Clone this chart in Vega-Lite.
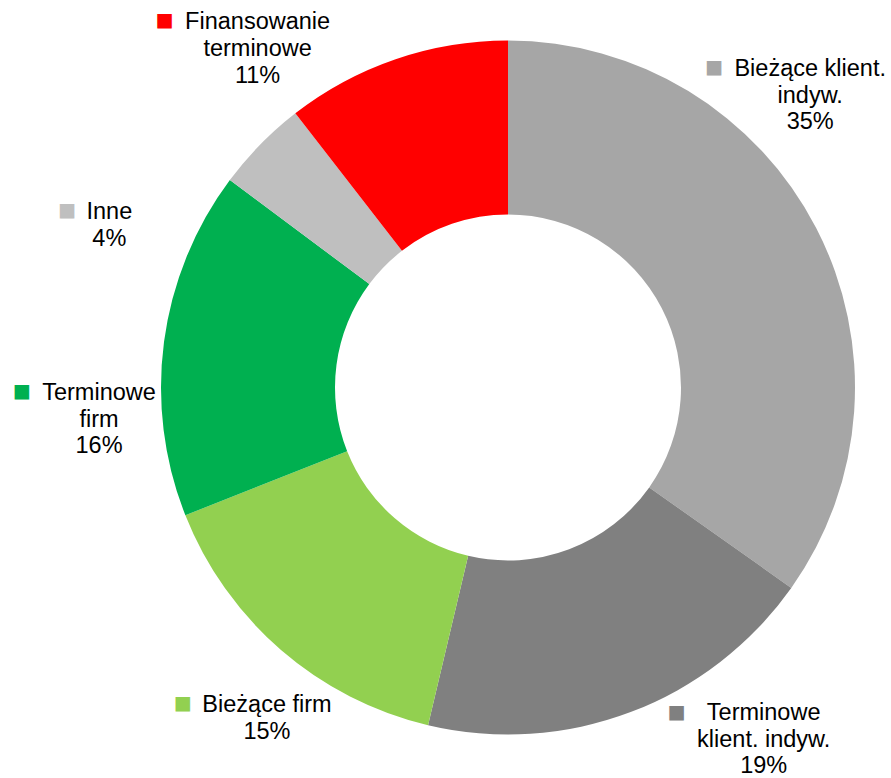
{
  "$schema": "https://vega.github.io/schema/vega-lite/v6.json",
  "autosize": {"type": "none"},
  "width": 760,
  "height": 775,
  "padding": {"left": 128, "top": 0, "right": 3, "bottom": 3},
  "background": "white",
  "config": {"view": {"stroke": null}},
  "data": {
    "values": [
      {"kategoria": "Bieżące klient. indyw.", "wartosc": 34.8, "etykieta": "Bieżące klient.\nindyw.\n35%", "kolejnosc": 1},
      {"kategoria": "Terminowe klient. indyw.", "wartosc": 18.9, "etykieta": "Terminowe\nklient. indyw.\n19%", "kolejnosc": 2},
      {"kategoria": "Bieżące firm", "wartosc": 15.3, "etykieta": "Bieżące firm\n15%", "kolejnosc": 3},
      {"kategoria": "Terminowe firm", "wartosc": 16.2, "etykieta": "Terminowe\nfirm\n16%", "kolejnosc": 4},
      {"kategoria": "Inne", "wartosc": 4.3, "etykieta": "Inne\n4%", "kolejnosc": 5},
      {"kategoria": "Finansowanie terminowe", "wartosc": 10.5, "etykieta": "Finansowanie\nterminowe\n11%", "kolejnosc": 6}
    ]
  },
  "encoding": {
    "theta": {"field": "wartosc", "type": "quantitative", "stack": true},
    "order": {"field": "kolejnosc", "type": "quantitative"}
  },
  "layer": [
    {
      "mark": {"type": "arc", "outerRadius": 347, "innerRadius": 173},
      "encoding": {
        "color": {
          "field": "kategoria", "type": "nominal", "legend": null,
          "scale": {
            "domain": ["Bieżące klient. indyw.", "Terminowe klient. indyw.", "Bieżące firm", "Terminowe firm", "Inne", "Finansowanie terminowe"],
            "range": ["#A6A6A6", "#808080", "#92D050", "#00B050", "#BFBFBF", "#FF0000"]
          }
        }
      }
    },
    {
      "mark": {"type": "text", "radius": 347, "dx": -6, "dy": -152, "align": "center", "baseline": "alphabetic", "lineBreak": "\n", "lineHeight": 26.7, "fontSize": 23.5, "font": "Liberation Sans", "fill": "#000000"},
      "encoding": {"text": {"condition": {"test": "datum.kolejnosc == 1", "field": "etykieta"}, "value": ""}}
    },
    {
      "mark": {"type": "text", "radius": 347, "dx": 133, "dy": 8, "align": "center", "baseline": "alphabetic", "lineBreak": "\n", "lineHeight": 26.7, "fontSize": 23.5, "font": "Liberation Sans", "fill": "#000000"},
      "encoding": {"text": {"condition": {"test": "datum.kolejnosc == 2", "field": "etykieta"}, "value": ""}}
    },
    {
      "mark": {"type": "text", "radius": 347, "dx": -14, "dy": 62, "align": "center", "baseline": "alphabetic", "lineBreak": "\n", "lineHeight": 26.7, "fontSize": 23.5, "font": "Liberation Sans", "fill": "#000000"},
      "encoding": {"text": {"condition": {"test": "datum.kolejnosc == 3", "field": "etykieta"}, "value": ""}}
    },
    {
      "mark": {"type": "text", "radius": 347, "dx": -65, "dy": 58, "align": "center", "baseline": "alphabetic", "lineBreak": "\n", "lineHeight": 26.7, "fontSize": 23.5, "font": "Liberation Sans", "fill": "#000000"},
      "encoding": {"text": {"condition": {"test": "datum.kolejnosc == 4", "field": "etykieta"}, "value": ""}}
    },
    {
      "mark": {"type": "text", "radius": 347, "dx": -151, "dy": 75, "align": "center", "baseline": "alphabetic", "lineBreak": "\n", "lineHeight": 26.7, "fontSize": 23.5, "font": "Liberation Sans", "fill": "#000000"},
      "encoding": {"text": {"condition": {"test": "datum.kolejnosc == 5", "field": "etykieta"}, "value": ""}}
    },
    {
      "mark": {"type": "text", "radius": 347, "dx": -138, "dy": -30, "align": "center", "baseline": "alphabetic", "lineBreak": "\n", "lineHeight": 26.7, "fontSize": 23.5, "font": "Liberation Sans", "fill": "#000000"},
      "encoding": {"text": {"condition": {"test": "datum.kolejnosc == 6", "field": "etykieta"}, "value": ""}}
    },
    {
      "mark": {"type": "text", "radius": 347, "dx": -102, "dy": -161, "align": "center", "baseline": "middle", "fontSize": 19, "font": "DejaVu Sans"},
      "encoding": {"color": {"field": "kategoria", "type": "nominal", "legend": null}, "text": {"condition": {"test": "datum.kolejnosc == 1", "value": "■"}, "value": ""}}
    },
    {
      "mark": {"type": "text", "radius": 347, "dx": 46, "dy": 0, "align": "center", "baseline": "middle", "fontSize": 19, "font": "DejaVu Sans"},
      "encoding": {"color": {"field": "kategoria", "type": "nominal", "legend": null}, "text": {"condition": {"test": "datum.kolejnosc == 2", "value": "■"}, "value": ""}}
    },
    {
      "mark": {"type": "text", "radius": 347, "dx": -98, "dy": 53, "align": "center", "baseline": "middle", "fontSize": 19, "font": "DejaVu Sans"},
      "encoding": {"color": {"field": "kategoria", "type": "nominal", "legend": null}, "text": {"condition": {"test": "datum.kolejnosc == 3", "value": "■"}, "value": ""}}
    },
    {
      "mark": {"type": "text", "radius": 347, "dx": -142, "dy": 49, "align": "center", "baseline": "middle", "fontSize": 19, "font": "DejaVu Sans"},
      "encoding": {"color": {"field": "kategoria", "type": "nominal", "legend": null}, "text": {"condition": {"test": "datum.kolejnosc == 4", "value": "■"}, "value": ""}}
    },
    {
      "mark": {"type": "text", "radius": 347, "dx": -193, "dy": 66, "align": "center", "baseline": "middle", "fontSize": 19, "font": "DejaVu Sans"},
      "encoding": {"color": {"field": "kategoria", "type": "nominal", "legend": null}, "text": {"condition": {"test": "datum.kolejnosc == 5", "value": "■"}, "value": ""}}
    },
    {
      "mark": {"type": "text", "radius": 347, "dx": -231, "dy": -39, "align": "center", "baseline": "middle", "fontSize": 19, "font": "DejaVu Sans"},
      "encoding": {"color": {"field": "kategoria", "type": "nominal", "legend": null}, "text": {"condition": {"test": "datum.kolejnosc == 6", "value": "■"}, "value": ""}}
    }
  ]
}
